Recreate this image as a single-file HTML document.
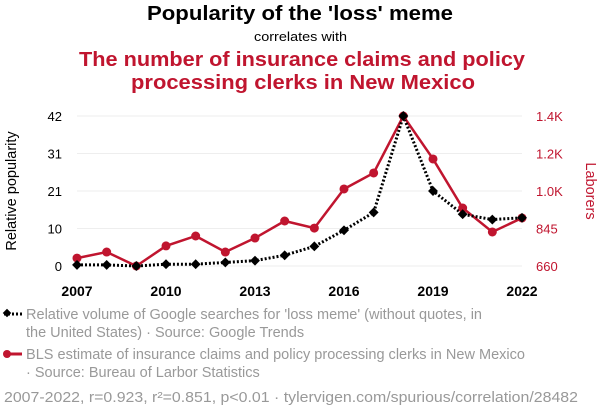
<!DOCTYPE html>
<html><head><meta charset="utf-8"><style>
body{margin:0;background:#fff;width:600px;height:414px;overflow:hidden;font-family:"Liberation Sans",sans-serif}
</style></head><body>
<svg width="600" height="414" font-family="Liberation Sans, sans-serif">
<text x="147" y="20" textLength="306" lengthAdjust="spacingAndGlyphs" font-size="20" font-weight="bold" fill="#000">Popularity of the 'loss' meme</text>
<text x="254" y="41" textLength="93" lengthAdjust="spacingAndGlyphs" font-size="13" fill="#000">correlates with</text>
<text x="79" y="66" textLength="446" lengthAdjust="spacingAndGlyphs" font-size="20" font-weight="bold" fill="#c0152f">The number of insurance claims and policy</text>
<text x="131" y="89" textLength="344" lengthAdjust="spacingAndGlyphs" font-size="20" font-weight="bold" fill="#c0152f">processing clerks in New Mexico</text>
<g id="grid"></g>
<g id="axes"></g>
<text transform="translate(16,191) rotate(-90)" text-anchor="middle" font-size="14.5" fill="#000">Relative popularity</text>
<text transform="translate(586,191) rotate(90)" text-anchor="middle" font-size="14.5" fill="#c0152f">Laborers</text>
<g id="series"></g>
<g>
<line x1="4" y1="314" x2="22" y2="314" stroke="#000" stroke-width="3" stroke-dasharray="2,2"/>
<rect x="4" y="310" width="6" height="6" fill="#000" transform="rotate(45 7 313)"/>
<text x="26" y="319" textLength="456" lengthAdjust="spacingAndGlyphs" font-size="14.5" fill="#999">Relative volume of Google searches for 'loss meme' (without quotes, in</text>
<text x="26" y="337" font-size="14.5" fill="#999">the United States) · Source: Google Trends</text>
</g>
<g>
<line x1="4" y1="354" x2="22" y2="354" stroke="#c0152f" stroke-width="3"/>
<circle cx="7" cy="354" r="4" fill="#c0152f"/>
<text x="26" y="359" textLength="499" lengthAdjust="spacingAndGlyphs" font-size="14.5" fill="#999">BLS estimate of insurance claims and policy processing clerks in New Mexico</text>
<text x="26" y="377" font-size="14.5" fill="#999">· Source: Bureau of Larbor Statistics</text>
</g>
<text x="4" y="402" textLength="574" lengthAdjust="spacingAndGlyphs" font-size="14.5" fill="#999">2007-2022, r=0.923, r²=0.851, p&lt;0.01 · tylervigen.com/spurious/correlation/28482</text>
</svg>
<script>
const years=[2007,2008,2009,2010,2011,2012,2013,2014,2015,2016,2017,2018,2019,2020,2021,2022];
const googleValues=[0.3,0.3,0,0.5,0.5,1,1.5,3,5.5,10,15,42,21,14.5,13,13.5];
const clerkValues=[699,729,660,759,808,729,798,882,847,1040,1119,1400,1188,946,828,897];
const leftTicks=[0,10.5,21,31.5,42];
const leftTickLabels=["0","10","21","31","42"];
const rightTicks=[660,845,1030,1215,1400];
const rightTickLabels=["660","845","1.0K","1.2K","1.4K"];
const xTicks=[2007,2010,2013,2016,2019,2022];
const NS="http://www.w3.org/2000/svg";
const X0=77,X1=522,YB=266,YT=116;
const xs=y=>X0+(y-2007)/(2022-2007)*(X1-X0);
const yl=v=>YB-(v-0)/(42-0)*(YB-YT);
const yr=v=>YB-(v-660)/(1400-660)*(YB-YT);
function mk(tag,attrs,parent,txt){const e=document.createElementNS(NS,tag);for(const k in attrs)e.setAttribute(k,attrs[k]);if(txt!==undefined)e.textContent=txt;document.getElementById(parent).appendChild(e);return e;}
leftTicks.forEach((t,i)=>{
 const g=mk('line',{x1:X0,x2:X1,y1:yl(t),y2:yl(t),stroke:'#eee','stroke-width':1},'grid');
 
 
 const l=mk('text',{x:62,y:yl(t)+5,'text-anchor':'end','font-size':13,fill:'#000'},'axes',leftTickLabels[i]);
 
 
});
rightTicks.forEach((t,i)=>{
 const l=mk('text',{x:536,y:yr(t)+5,'font-size':13,fill:'#c0152f'},'axes',rightTickLabels[i]);
 
 
});
xTicks.forEach(t=>{
 const l=mk('text',{x:xs(t),y:296,'text-anchor':'middle','font-size':14,'font-weight':'bold',fill:'#000'},'axes',t);
 
 
});
const rp=mk('polyline',{points:years.map((y,i)=>xs(y)+','+yr(clerkValues[i])).join(' '),fill:'none',stroke:'#c0152f','stroke-width':2.5},'series');


const bp=mk('polyline',{points:years.map((y,i)=>xs(y)+','+yl(googleValues[i])).join(' '),fill:'none',stroke:'#000','stroke-width':3,'stroke-dasharray':'2,2'},'series');


years.forEach((y,i)=>{
 const c=mk('circle',{cx:xs(y),cy:yr(clerkValues[i]),r:4.5,fill:'#c0152f'},'series');
 
 
 const cx=xs(y),cy=yl(googleValues[i]);
 const d=mk('rect',{x:cx-3.5,y:cy-3.5,width:7,height:7,fill:'#000',transform:`rotate(45 ${cx} ${cy})`},'series');
 
 
});
</script>
</body></html>
